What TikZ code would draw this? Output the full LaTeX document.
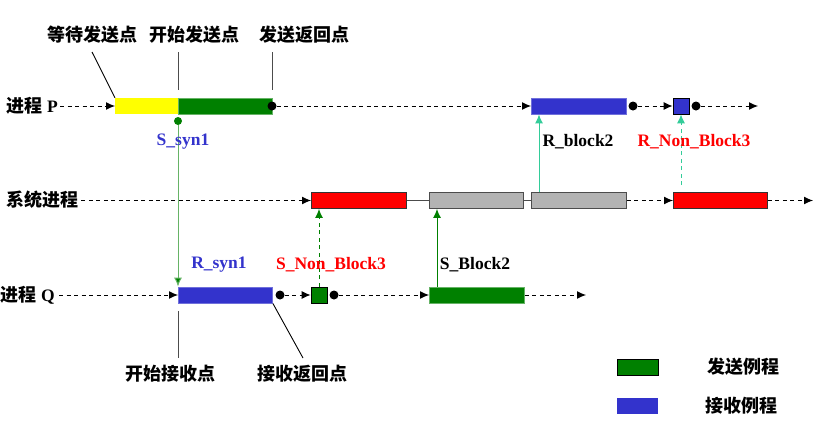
\documentclass[tikz,border=0pt]{standalone}
\usepackage{fontspec}
\setmainfont{Liberation Serif}
\newfontfamily\cjk{Noto Sans CJK SC}
\usetikzlibrary{arrows.meta}
\definecolor{cyel}{RGB}{255,255,0}
\definecolor{cgreen}{RGB}{0,128,0}
\definecolor{cblue}{RGB}{51,51,204}
\definecolor{cred}{RGB}{255,0,0}
\definecolor{cgray}{RGB}{179,179,179}
\definecolor{cteal}{RGB}{51,204,153}
\definecolor{clgreen}{RGB}{102,179,102}
\tikzset{
  bar/.style={rectangle,inner sep=0pt,minimum height=16pt,anchor=west},
  sq/.style={rectangle,inner sep=0pt,minimum width=16pt,minimum height=16pt,draw=black,line width=0.8pt},
  dot/.style={circle,fill=black,inner sep=0pt,minimum size=9pt},
  cjklab/.style={font=\cjk\bfseries\fontsize{18}{20}\selectfont,inner sep=0pt},
  latlab/.style={font=\bfseries\fontsize{17.5}{20}\selectfont,inner sep=0pt},
  dline/.style={dash pattern=on 4pt off 3.5pt,line width=1pt},
  arr/.style={-{Latex[length=9pt,width=8pt]}},
  thin/.style={line width=0.9pt}
}
\begin{document}
\begin{tikzpicture}[x=1pt,y=-1pt]
\useasboundingbox (0,0) rectangle (825,432);
% row labels
\node[anchor=west,inner sep=0pt] (lP) at (6,106) {{\cjk\bfseries\fontsize{18}{20}\selectfont 进程}\hspace{5pt}{\bfseries\fontsize{17.5}{20}\selectfont P}};
\node[cjklab,anchor=west] (lS) at (6,200) {系统进程};
\node[anchor=west,inner sep=0pt] (lQ) at (0,295) {{\cjk\bfseries\fontsize{18}{20}\selectfont 进程}\hspace{5pt}{\bfseries\fontsize{17.5}{20}\selectfont Q}};
% P row
\node[bar,fill=cyel,minimum width=63pt] (py) at (115,106) {};
\node[bar,fill=cgreen,draw=clgreen,thin,minimum width=94pt] (pg) at (178,106) {};
\node[dot] (pd1) at (272,106) {};
\node[bar,fill=cblue,draw=cblue!70!white,thin,minimum width=95pt] (pb) at (531,106) {};
\node[dot] (pd2) at (633,106) {};
\node[sq,fill=cblue] (psq) at (681,106) {};
\node[dot] (pd3) at (696,106) {};
\coordinate (pend) at (758,106);
\draw[dline,arr] (lP.east) ++(2,0) -- (py.west);
\draw[dline,arr] (pd1) -- (pb.west);
\draw[dline,arr] (pd2) -- (psq.west);
\draw[dline,arr] (pd3) -- (pend);
% System row
\node[bar,fill=cred,draw=black!80,thin,minimum width=95pt] (r1) at (311,200.5) {};
\node[bar,fill=cgray,draw=black!70,thin,minimum width=94pt] (g1) at (429,200.5) {};
\node[bar,fill=cgray,draw=black!70,thin,minimum width=95pt] (g2) at (531,200.5) {};
\node[bar,fill=cred,draw=black!80,thin,minimum width=94pt] (r2) at (673,200.5) {};
\coordinate (send) at (813,200.5);
\draw[dline,arr] (lS.east) ++(3,0.5) -- (r1.west);
\draw[thin,black!70] (r1.east) -- (g1.west);
\draw[thin,black!70] (g1.east) -- (g2.west);
\draw[dline,arr] (g2.east) -- (r2.west);
\draw[dline,arr] (r2.east) -- (send);
% Q row
\node[bar,fill=cblue,draw=cblue!70!white,thin,minimum width=94pt] (qb) at (178,295) {};
\node[dot] (qd1) at (280,295) {};
\node[sq,fill=cgreen] (qsq) at (319,295) {};
\node[dot] (qd2) at (334,295) {};
\node[bar,fill=cgreen,draw=clgreen,thin,minimum width=95pt] (qg) at (429,295) {};
\coordinate (qend) at (586,295);
\draw[dline,arr] (lQ.east) ++(4,0) -- (qb.west);
\draw[dline,arr] (qd1) -- (qsq.west);
\draw[dline,arr] (qd2) -- (qg.west);
\draw[dline,arr] (qg.east) -- (qend);
% vertical messages
\node[circle,fill=cgreen,inner sep=0pt,minimum size=8pt] (s1dot) at (178,121) {};
\draw[clgreen,line width=1pt,-{Latex[length=9pt,width=8pt,fill=cgreen]},draw=clgreen] (s1dot) -- (qb.north west);
\draw[cgreen,dline,arr] (qsq.north) -- (qsq.north |- r1.south);
\draw[cgreen,line width=1pt,arr] ([xshift=8pt]qg.north west) -- ([xshift=8pt]g1.south west);
\draw[cteal,line width=1pt,arr] ([xshift=8pt]g2.north west) -- ([xshift=8pt]pb.south west);
\coordinate (tds) at (681,185);
\draw[cteal,dline,arr] (tds) -- (psq.south);
% message labels
\node[latlab,text=cblue] (ls1) at (183,142) {S\_syn1};
\node[latlab,text=cblue] (lr1) at (219,265) {R\_syn1};
\node[latlab,text=cred] (lsn3) at (331,265) {S\_Non\_Block3};
\node[latlab] (lsb2) at (475,265) {S\_Block2};
\node[latlab] (lrb2) at (578,142) {R\_block2};
\node[latlab,text=cred] (lrn3) at (694,142) {R\_Non\_Block3};
% top annotations
\node[cjklab] (t1) at (92,35) {等待发送点};
\node[cjklab] (t2) at (194,35) {开始发送点};
\node[cjklab] (t3) at (304,35) {发送返回点};
\coordinate (a1) at (92,52);
\coordinate (a2s) at (178,52);
\coordinate (a2e) at (178,90);
\coordinate (a3s) at (272,52);
\coordinate (a3e) at (272,90);
\draw[thin] (a1) -- (py.north west);
\draw[thin,black!70] (a2s) -- (a2e);
\draw[thin,black!70] (a3s) -- (a3e);
% bottom annotations
\node[cjklab] (b1) at (170,374) {开始接收点};
\node[cjklab] (b2) at (302,374) {接收返回点};
\coordinate (c1s) at (178,311);
\coordinate (c1e) at (178,358);
\coordinate (c2e) at (303,358);
\draw[thin,black!70] (c1s) -- (c1e);
\draw[thin] (qb.south east) -- (c2e);
% legend
\node[rectangle,inner sep=0pt,minimum width=41pt,minimum height=16pt,fill=cgreen,draw=black,thin] (leg1) at (637.5,367) {};
\node[rectangle,inner sep=0pt,minimum width=41pt,minimum height=16pt,fill=cblue] (leg2) at (637.5,406) {};
\node[cjklab] (leg1t) at (743,367) {发送例程};
\node[cjklab] (leg2t) at (741,406) {接收例程};
\end{tikzpicture}
\end{document}
